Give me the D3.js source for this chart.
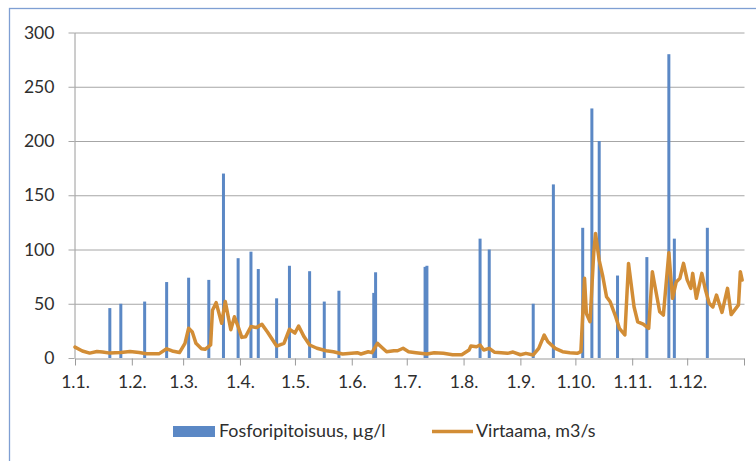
<!DOCTYPE html>
<html>
<head>
<meta charset="utf-8">
<script src="https://cdn.jsdelivr.net/npm/d3@7"></script>
<style>
  html, body { margin: 0; padding: 0; background: #fff; }
  svg { display: block; font-family: Lato, "Open Sans", sans-serif; }
</style>
</head>
<body>
<svg id="chart" width="756" height="461"></svg>
<script>
// Phosphorus samples (bars) and daily flow (line), day.month. of 2011
const phosDates = ["20.1.", "26.1.", "8.2.", "20.2.", "4.3.", "15.3.", "23.3.", "31.3.",
  "7.4.", "11.4.", "21.4.", "28.4.", "9.5.", "17.5.", "25.5.", "13.6.", "14.6.",
  "11.7.", "12.7.", "10.8.", "15.8.", "8.9.", "19.9.", "5.10.", "10.10.", "14.10.",
  "24.10.", "9.11.", "21.11.", "24.11.", "12.12."];
const phosValues = [46, 50, 52, 70, 74, 72, 170, 92,
  98, 82, 55, 85, 80, 52, 62, 60, 79,
  84, 85, 110, 100, 50, 160, 120, 230, 200,
  76, 93, 280, 110, 120];

const flowDates = ["1.1.", "5.1.", "9.1.", "13.1.", "16.1.", "20.1.", "26.1.", "31.1.",
  "5.2.", "9.2.", "16.2.", "20.2.", "23.2.", "27.2.",
  "2.3.", "4.3.", "6.3.", "8.3.", "11.3.", "13.3.", "16.3.", "17.3.", "19.3.", "22.3.",
  "24.3.", "27.3.", "29.3.", "31.3.",
  "2.4.", "4.4.", "7.4.", "10.4.", "13.4.", "16.4.", "21.4.", "25.4.", "28.4.",
  "1.5.", "3.5.", "6.5.", "9.5.", "13.5.", "18.5.", "22.5.", "27.5.",
  "4.6.", "6.6.", "10.6.", "12.6.", "15.6.", "17.6.", "20.6.", "24.6.", "26.6.", "29.6.",
  "2.7.", "6.7.", "12.7.", "16.7.", "21.7.", "26.7.", "31.7.",
  "4.8.", "5.8.", "8.8.", "10.8.", "12.8.", "15.8.", "18.8.", "25.8.", "28.8.",
  "1.9.", "4.9.", "8.9.", "11.9.", "14.9.", "16.9.", "20.9.", "24.9.", "28.9.",
  "2.10.", "4.10.", "6.10.", "7.10.", "9.10.", "11.10.", "12.10.", "14.10.", "16.10.",
  "18.10.", "20.10.", "23.10.", "25.10.", "28.10.", "30.10.",
  "2.11.", "4.11.", "7.11.", "10.11.", "12.11.", "13.11.", "16.11.", "18.11.", "21.11.",
  "23.11.", "25.11.", "27.11.", "29.11.",
  "1.12.", "3.12.", "4.12.", "6.12.", "9.12.", "11.12.", "13.12.", "15.12.", "17.12.",
  "20.12.", "23.12.", "25.12.", "29.12.", "30.12.", "31.12."];
const flowValues = [10, 6.5, 4.5, 6, 5.5, 4.5, 5, 6,
  5, 4, 4, 8.5, 6.5, 5,
  13.5, 27.5, 24, 13.5, 8.5, 8, 12, 44, 51, 32,
  52, 26, 38, 29,
  19, 19.5, 29, 28, 31, 24, 11, 13.5, 26.5,
  23, 29.5, 19.5, 12, 9, 6.7, 5.8, 3.7,
  4.9, 3.7, 5.8, 4.9, 13.5, 10.4, 5.8, 6.7, 6.7, 9,
  5.8, 4.9, 3.7, 4.9, 4.3, 3, 3,
  7.4, 11, 10.4, 12, 7.4, 8.9, 5.2, 4.3, 5.5,
  3, 4.3, 2.8, 8.9, 21.2, 15, 8.9, 5.8, 4.9,
  4.3, 5.8, 73.4, 41, 33.4, 96.4, 114.8, 90, 74.9,
  56.4, 51.8, 38, 27.3, 21.2, 87.2,
  47.2, 33.4, 31.3, 27.3, 79.5, 70, 42.6, 39.6, 97,
  55, 70, 73.4, 87.2,
  72, 64.2, 78, 55, 78, 62.6, 50.4, 47, 58,
  42, 64.2, 40, 49, 79.5, 71.8];

const yTicks = [0, 50, 100, 150, 200, 250, 300];
const seriesNames = ["Fosforipitoisuus, µg/l", "Virtaama, m3/s"];
const year = 2011;

const parse = d3.timeParse("%d.%m.%Y");
const toDate = s => parse(s + year);
const fmt = d => `${d.getDate()}.${d.getMonth() + 1}.`;

const svg = d3.select("#chart");
const W = 756, H = 461;
const plotLeft = 75, plotRight = 744, plotTop = 32.5, plotBottom = 358;

const BAR = "#5b88c5", LINE = "#d28d36", GRID = "#a6a6a6", AXIS = "#9a9a9a", TEXT = "#2e2e2e";
const FONT = 17.6;

// frame around the chart area
svg.append("rect")
  .attr("x", 9.5).attr("y", 8.5)
  .attr("width", W + 20).attr("height", H + 20)
  .attr("fill", "none").attr("stroke", "#7f9fd3").attr("stroke-width", 1.3);

const x = d3.scaleTime()
  .domain([new Date(year, 0, 1), new Date(year + 1, 0, 1)])
  .range([plotLeft, plotRight]);
const y = d3.scaleLinear().domain([0, 300]).range([plotBottom, plotTop]);

// horizontal gridlines + y labels
const yAxis = d3.axisLeft(y).tickValues(yTicks).tickSize(6).tickPadding(14).tickSizeOuter(0);
const gy = svg.append("g").attr("transform", `translate(${plotLeft - 0.5},0)`).call(yAxis);
gy.select(".domain").attr("stroke", AXIS);
gy.selectAll(".tick line").attr("stroke", GRID);
gy.selectAll(".tick text").attr("font-size", FONT).attr("fill", TEXT).attr("font-family", "Lato, sans-serif");
gy.selectAll(".tick").filter(d => d !== 0).append("line")
  .attr("x1", 0).attr("x2", plotRight - plotLeft + 1)
  .attr("stroke", GRID).attr("stroke-width", 1);

// x axis with monthly ticks
const months = d3.timeMonth.range(new Date(year, 0, 1), new Date(year + 1, 0, 1));
const xAxis = d3.axisBottom(x)
  .tickValues(months.concat([new Date(year + 1, 0, 1)]))
  .tickFormat(d => d.getFullYear() === year ? fmt(d) : "")
  .tickSize(7).tickPadding(10).tickSizeOuter(0);
const gx = svg.append("g").attr("transform", `translate(0,${plotBottom + 0.5})`).call(xAxis);
gx.select(".domain").attr("stroke", AXIS);
gx.selectAll(".tick line").attr("stroke", AXIS);
gx.selectAll(".tick text").attr("font-size", FONT).attr("fill", TEXT).attr("font-family", "Lato, sans-serif");

// phosphorus bars
const bars = phosDates.map((d, i) => ({ date: toDate(d), value: phosValues[i] }));
const barW = 3;
svg.append("g").selectAll("rect").data(bars).join("rect")
  .attr("x", d => x(d.date) - barW / 2)
  .attr("y", d => y(d.value))
  .attr("width", barW)
  .attr("height", d => y(0) - y(d.value))
  .attr("fill", BAR);

// flow line
const flow = flowDates.map((d, i) => ({ date: toDate(d), value: flowValues[i] }));
svg.append("path").datum(flow)
  .attr("fill", "none").attr("stroke", LINE).attr("stroke-width", 3.5)
  .attr("stroke-linejoin", "round").attr("stroke-linecap", "round")
  .attr("d", d3.line().x(d => x(d.date)).y(d => y(d.value)));

// legend
const lg = svg.append("g").attr("font-family", "Lato, sans-serif").attr("font-size", 17.9).attr("fill", TEXT);
lg.append("rect").attr("x", 173).attr("y", 426).attr("width", 42).attr("height", 11).attr("fill", BAR);
lg.append("text").attr("x", 219).attr("y", 437).text(seriesNames[0]);
lg.append("line").attr("x1", 432).attr("x2", 473).attr("y1", 431.5).attr("y2", 431.5)
  .attr("stroke", LINE).attr("stroke-width", 3.5);
lg.append("text").attr("x", 476).attr("y", 437).text(seriesNames[1]);
</script>
</body>
</html>
